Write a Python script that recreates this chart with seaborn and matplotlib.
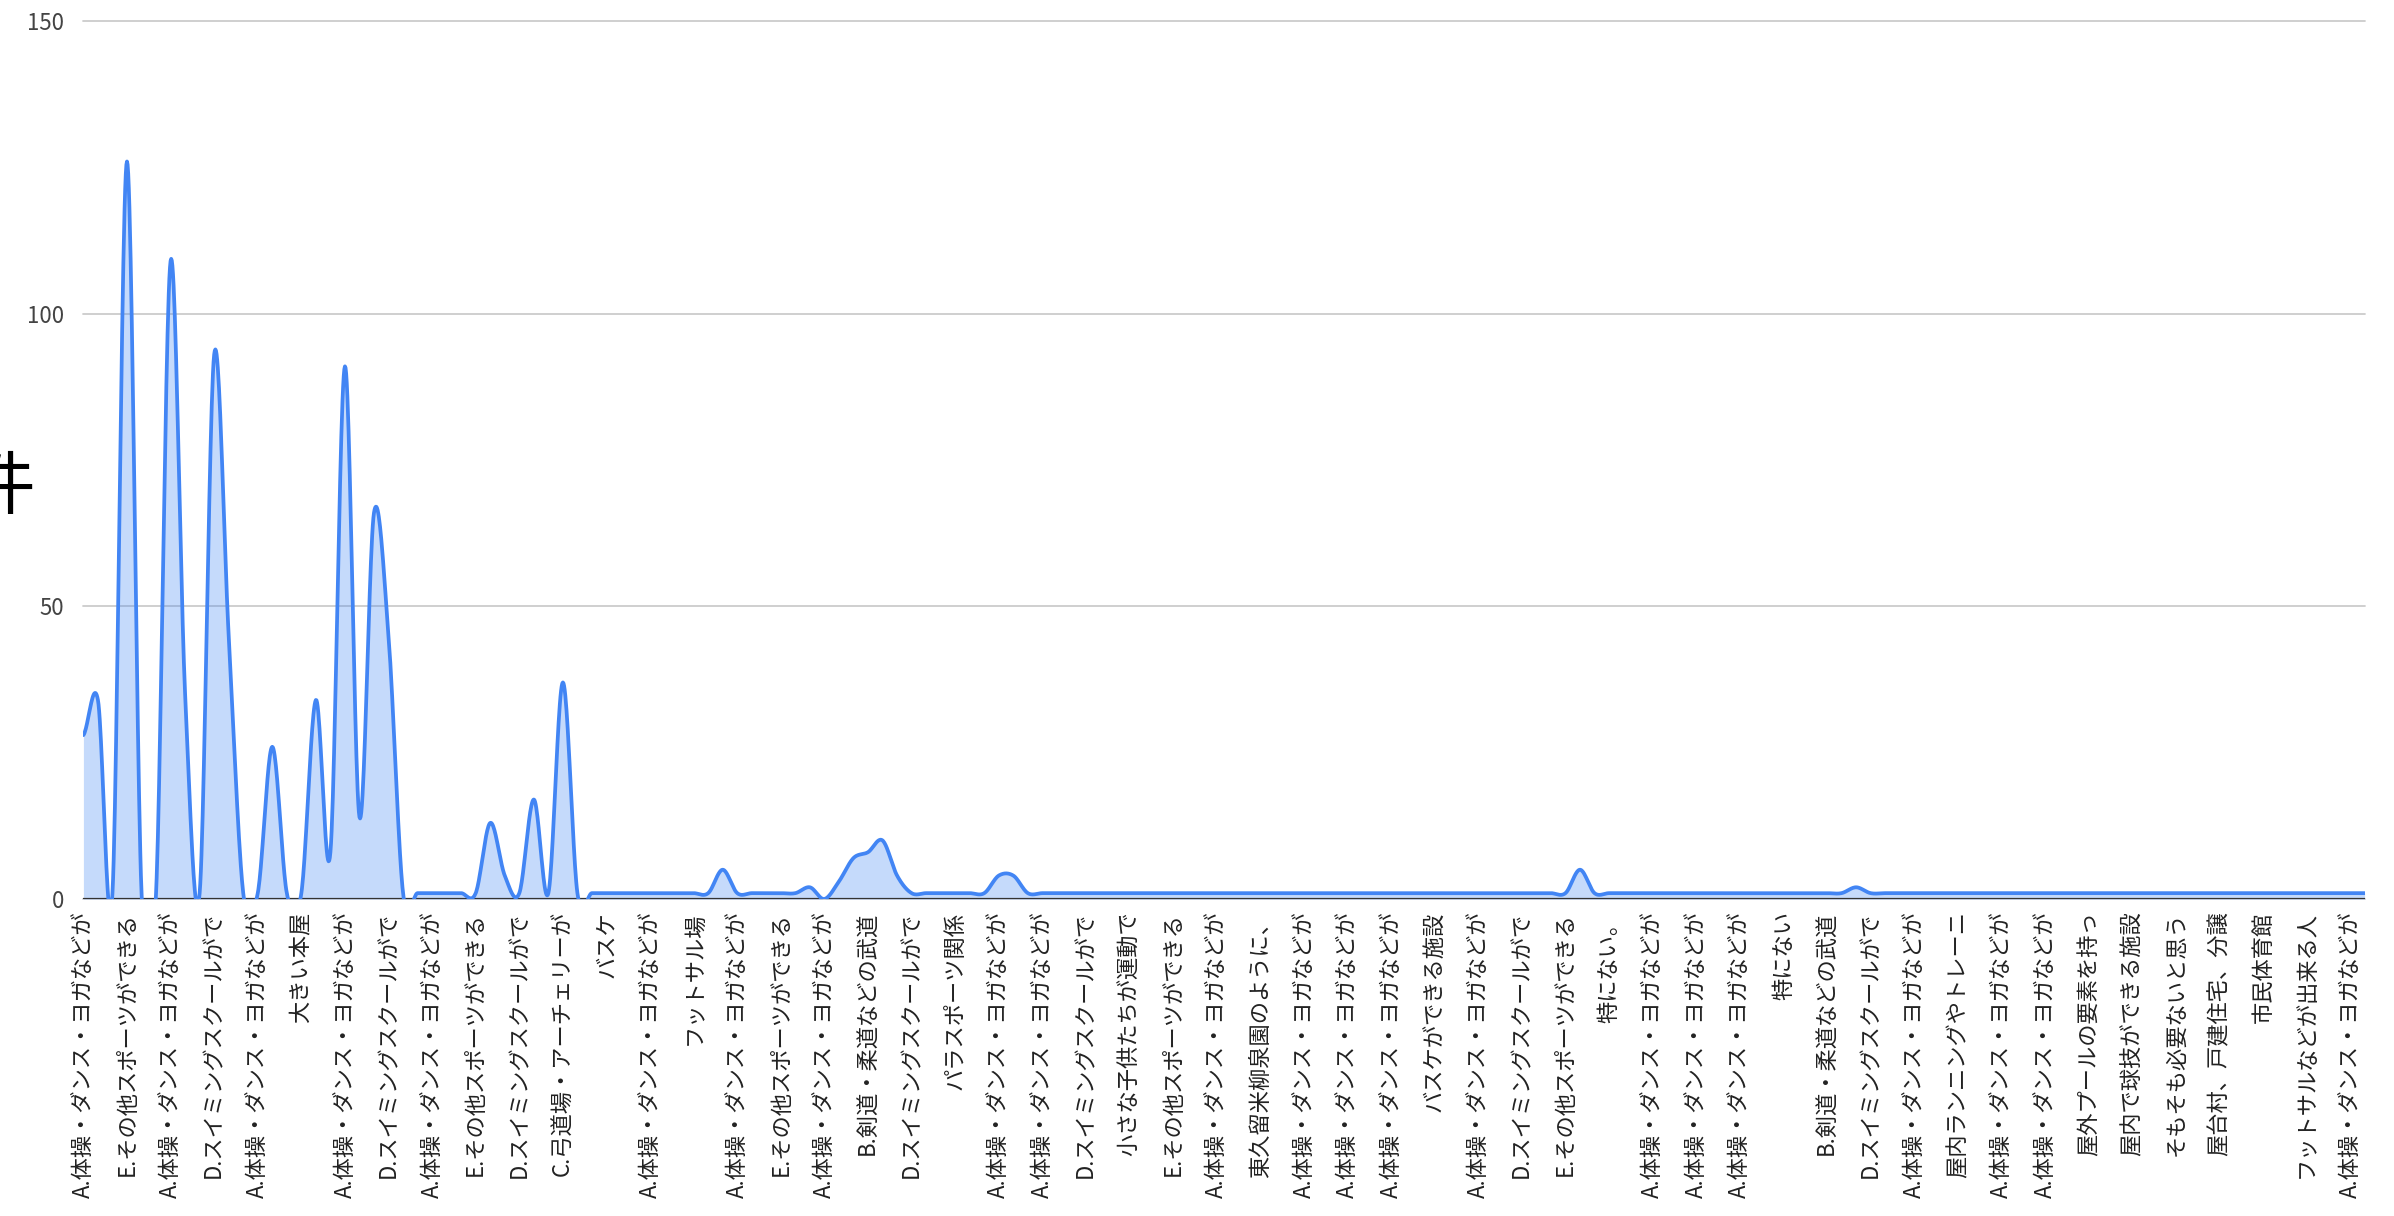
import numpy as np
import seaborn as sns
import matplotlib
matplotlib.use("Agg")
import matplotlib.pyplot as plt

# Counts per answer (one value per category, left to right)
counts = [28, 34, 1, 126, 1, 1, 109, 35, 1, 93,
          45, 1, 1, 26, 1, 1, 34, 8, 91, 14,
          66, 45, 1, 1, 1, 1, 1, 1, 13, 4,
          1, 17, 1, 37, 1, 1, 1, 1, 1, 1,
          1, 1, 1, 1, 5, 1, 1, 1, 1, 1,
          2, 0, 3, 7, 8, 10, 4, 1, 1, 1,
          1, 1, 1, 4, 4, 1, 1, 1, 1, 1,
          1, 1, 1, 1, 1, 1, 1, 1, 1, 1,
          1, 1, 1, 1, 1, 1, 1, 1, 1, 1,
          1, 1, 1, 1, 1, 1, 1, 1, 1, 1,
          1, 1, 1, 5, 1, 1, 1, 1, 1, 1,
          1, 1, 1, 1, 1, 1, 1, 1, 1, 1,
          1, 1, 2, 1, 1, 1, 1, 1, 1, 1,
          1, 1, 1, 1, 1, 1, 1, 1, 1, 1,
          1, 1, 1, 1, 1, 1, 1, 1, 1, 1,
          1, 1, 1, 1, 1, 1, 1, 1]

# Only every third category label is shown on the axis
tick_labels = [
    "A.体操・ダンス・ヨガなどが", "E.その他スポーツができる", "A.体操・ダンス・ヨガなどが",
    "D.スイミングスクールがで", "A.体操・ダンス・ヨガなどが", "大きい本屋",
    "A.体操・ダンス・ヨガなどが", "D.スイミングスクールがで", "A.体操・ダンス・ヨガなどが",
    "E.その他スポーツができる", "D.スイミングスクールがで", "C.弓道場・アーチェリーが",
    "バスケ", "A.体操・ダンス・ヨガなどが", "フットサル場",
    "A.体操・ダンス・ヨガなどが", "E.その他スポーツができる", "A.体操・ダンス・ヨガなどが",
    "B.剣道・柔道などの武道", "D.スイミングスクールがで", "パラスポーツ関係",
    "A.体操・ダンス・ヨガなどが", "A.体操・ダンス・ヨガなどが", "D.スイミングスクールがで",
    "小さな子供たちが運動で", "E.その他スポーツができる", "A.体操・ダンス・ヨガなどが",
    "東久留米柳泉園のように、", "A.体操・ダンス・ヨガなどが", "A.体操・ダンス・ヨガなどが",
    "A.体操・ダンス・ヨガなどが", "バスケができる施設", "A.体操・ダンス・ヨガなどが",
    "D.スイミングスクールがで", "E.その他スポーツができる", "特にない。",
    "A.体操・ダンス・ヨガなどが", "A.体操・ダンス・ヨガなどが", "A.体操・ダンス・ヨガなどが",
    "特にない", "B.剣道・柔道などの武道", "D.スイミングスクールがで",
    "A.体操・ダンス・ヨガなどが", "屋内ランニングやトレーニ", "A.体操・ダンス・ヨガなどが",
    "A.体操・ダンス・ヨガなどが", "屋外プールの要素を持っ", "屋内で球技ができる施設",
    "そもそも必要ないと思う", "屋台村、戸建住宅、分譲", "市民体育館",
    "フットサルなどが出来る人", "A.体操・ダンス・ヨガなどが",
]
y_ticks = [0, 50, 100, 150]
y_title = "件"


def smooth_curve(values, steps=24):
    '''Bezier smoothing like the "function" curve type of the original chart.'''
    v = np.asarray(values, dtype=float)
    pad = np.concatenate([[v[0]], v, [v[-1]]])
    t = np.linspace(0, 1, steps, endpoint=False)
    xs, ys = [], []
    for i in range(len(v) - 1):
        p0, p3 = v[i], v[i + 1]
        p1 = p0 + (pad[i + 2] - pad[i]) / 6
        p2 = p3 - (pad[i + 3] - pad[i + 1]) / 6
        ys.append((1 - t) ** 3 * p0 + 3 * (1 - t) ** 2 * t * p1 + 3 * (1 - t) * t ** 2 * p2 + t ** 3 * p3)
        xs.append(i + t)
    xs.append([len(v) - 1])
    ys.append([v[-1]])
    return np.concatenate(xs), np.concatenate(ys)


sns.set_style("white")
plt.rcParams['font.family'] = ['Noto Sans CJK JP', 'DejaVu Sans']

fig = plt.figure(figsize=(23.94, 12.16), dpi=100)
ax = fig.add_axes([83.4 / 2394, 1 - 899 / 1216, (2364.6 - 83.4) / 2394, 878 / 1216])

sx, sy = smooth_curve(counts)
ax.fill_between(sx, sy, 0, color="#4285f4", alpha=0.3, lw=0, zorder=2)
ax.axhline(0, color="#333333", lw=1.6, zorder=3)
sns.lineplot(x=sx, y=sy, ax=ax, color="#4285f4", lw=2.7, sort=False, estimator=None, zorder=4)

ax.set_xlim(0, len(counts) - 1)
ax.set_ylim(0, 150)
ax.set_yticks(y_ticks)
ax.set_yticklabels([str(v) for v in y_ticks], fontsize=16, color="#444444")
ax.set_xticks(np.arange(0, len(counts), 3))
ax.set_xticklabels(tick_labels, rotation=90, ha="center", va="top", fontsize=16, color="#222222")
ax.tick_params(axis="both", length=0)
ax.tick_params(axis="x", pad=9)
ax.tick_params(axis="y", pad=14)
ax.yaxis.grid(True, color="#cccccc", lw=1.3)
for gl in ax.get_ygridlines():
    gl.set_clip_on(False)
ax.xaxis.grid(False)
for s in ax.spines.values():
    s.set_visible(False)
ax.set_xlabel("")
ax.set_ylabel("")

fig.text(0.0, 1 - 488 / 1216, y_title, fontsize=50, ha="center", va="center", color="#000000")

fig.savefig("out.png", dpi=100)
